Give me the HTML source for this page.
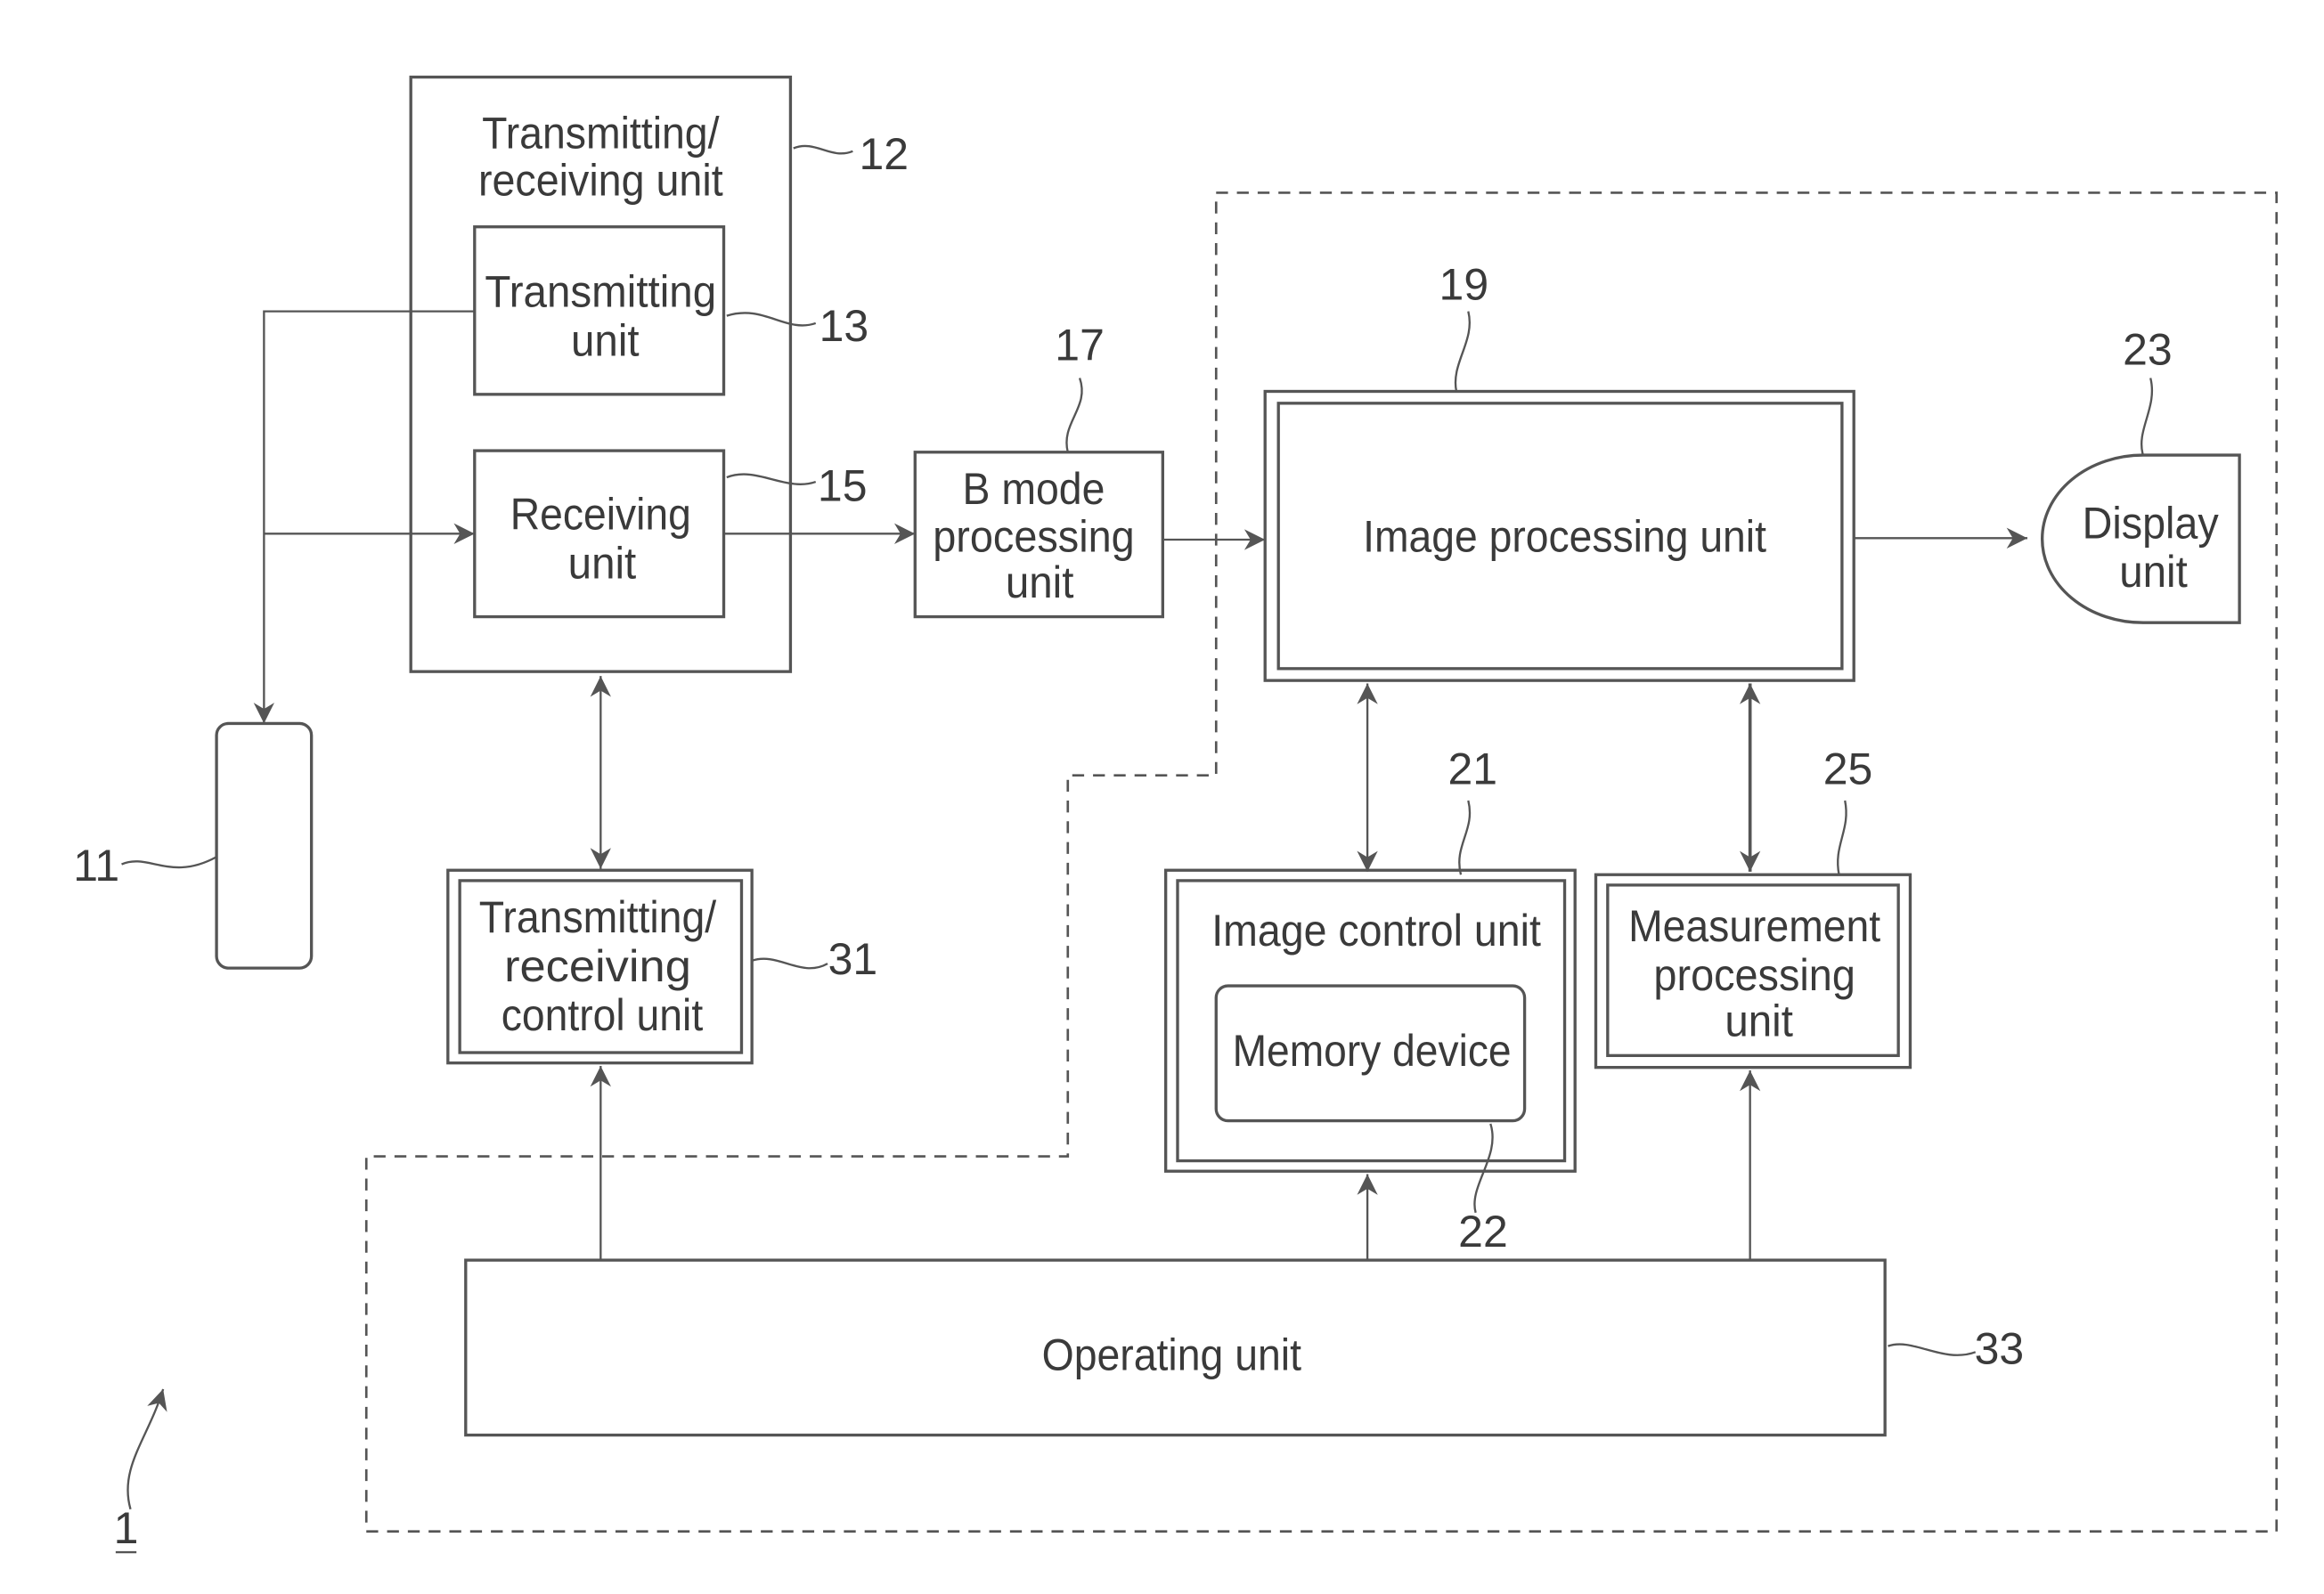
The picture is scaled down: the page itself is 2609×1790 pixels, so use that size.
<!DOCTYPE html>
<html><head><meta charset="utf-8"><style>
html,body{margin:0;padding:0;background:#fff;}
svg{display:block;}
text{font-family:"Liberation Sans",Arial,sans-serif;fill:#3a3a3a;font-size:30px;}
</style></head><body>
<svg width="2609" height="1790" viewBox="0 0 1567 1075.2" preserveAspectRatio="none" xmlns="http://www.w3.org/2000/svg">
<defs>
<marker id="b" viewBox="0 0 10 10" refX="10" refY="5" markerWidth="18" markerHeight="14" markerUnits="userSpaceOnUse" orient="auto-start-reverse">
<path d="M0,0 L10,5 L0,10 L3,5 z" fill="#555"/></marker>
</defs>
<g fill="none" stroke="#555" stroke-width="2">
<path d="M820,130 H1535 V1033 H247 V780 H720 V523 H820 Z" stroke-dasharray="8,6" stroke-width="1.6"/>
<rect x="277" y="52" width="256" height="401"/>
<rect x="320" y="153" width="168" height="113"/>
<rect x="320" y="304" width="168" height="112"/>
<rect x="146" y="488" width="64" height="165" rx="8"/>
<rect x="617" y="305" width="167" height="111"/>
<rect x="853" y="264" width="397" height="195"/>
<rect x="862" y="272" width="380" height="179"/>
<path d="M1445,307 H1510 V420 H1445 A68,56.5 0 0 1 1445,307 Z"/>
<rect x="786" y="587" width="276" height="203"/>
<rect x="794" y="594" width="261" height="189"/>
<rect x="820" y="665" width="208" height="91" rx="8"/>
<rect x="1076" y="590" width="212" height="130"/>
<rect x="1084" y="597" width="196" height="115"/>
<rect x="302" y="587" width="205" height="130"/>
<rect x="310" y="594" width="190" height="116"/>
<rect x="314" y="850" width="957" height="118"/>
</g>
<g fill="none" stroke="#555" stroke-width="1.4">
<path d="M320,210 H178 V488" marker-end="url(#b)"/>
<path d="M178,360 H320" marker-end="url(#b)"/>
<path d="M488,360 H617" marker-end="url(#b)"/>
<path d="M784,364 H853" marker-end="url(#b)"/>
<path d="M1250,363 H1367" marker-end="url(#b)"/>
<path d="M922,461 V588" marker-start="url(#b)" marker-end="url(#b)"/>
<path d="M1180,461 V588" stroke-width="2.2" marker-start="url(#b)" marker-end="url(#b)"/>
<path d="M405,456 V586" marker-start="url(#b)" marker-end="url(#b)"/>
<path d="M405,850 V719" marker-end="url(#b)"/>
<path d="M922,850 V792" marker-end="url(#b)"/>
<path d="M1180,850 V722" marker-end="url(#b)"/>
<path d="M535,100 C550,94 560,108 575,102"/>
<path d="M490,213 C515,205 530,225 550,218"/>
<path d="M490,322 C510,314 530,332 550,325"/>
<path d="M82,583 C100,575 115,595 146,578"/>
<path d="M728,255 C735,275 715,285 720,305"/>
<path d="M990,210 C995,230 978,245 982,264"/>
<path d="M1450,255 C1455,275 1440,290 1445,307"/>
<path d="M990,540 C995,560 980,570 985,590"/>
<path d="M1244,540 C1248,560 1236,570 1240,590"/>
<path d="M1005,758 C1012,780 990,800 995,818"/>
<path d="M507,648 C525,642 540,660 558,650"/>
<path d="M1273,908 C1290,902 1310,920 1332,912"/>
<path d="M88,1018 C80,990 100,970 110,937" marker-end="url(#b)"/>
<path d="M78,1047 H92"/>
</g>
<g text-anchor="middle">
<text x="405" y="100" textLength="160" lengthAdjust="spacingAndGlyphs">Transmitting/</text>
<text x="405" y="132" textLength="165" lengthAdjust="spacingAndGlyphs">receiving unit</text>
<text x="405" y="207" textLength="156" lengthAdjust="spacingAndGlyphs">Transmitting</text>
<text x="408" y="240" textLength="46" lengthAdjust="spacingAndGlyphs">unit</text>
<text x="405" y="357" textLength="122" lengthAdjust="spacingAndGlyphs">Receiving</text>
<text x="406" y="390" textLength="46" lengthAdjust="spacingAndGlyphs">unit</text>
<text x="697" y="340" textLength="96" lengthAdjust="spacingAndGlyphs">B mode</text>
<text x="697" y="372" textLength="136" lengthAdjust="spacingAndGlyphs">processing</text>
<text x="701" y="403" textLength="46" lengthAdjust="spacingAndGlyphs">unit</text>
<text x="1055" y="372" textLength="272" lengthAdjust="spacingAndGlyphs">Image processing unit</text>
<text x="1450" y="363" textLength="92" lengthAdjust="spacingAndGlyphs">Display</text>
<text x="1452" y="396" textLength="46" lengthAdjust="spacingAndGlyphs">unit</text>
<text x="928" y="638" textLength="222" lengthAdjust="spacingAndGlyphs">Image control unit</text>
<text x="925" y="719" textLength="188" lengthAdjust="spacingAndGlyphs">Memory device</text>
<text x="1183" y="635" textLength="170" lengthAdjust="spacingAndGlyphs">Measurement</text>
<text x="1183" y="668" textLength="136" lengthAdjust="spacingAndGlyphs">processing</text>
<text x="1186" y="699" textLength="46" lengthAdjust="spacingAndGlyphs">unit</text>
<text x="403" y="629" textLength="160" lengthAdjust="spacingAndGlyphs">Transmitting/</text>
<text x="403" y="662" textLength="126" lengthAdjust="spacingAndGlyphs">receiving</text>
<text x="406" y="695" textLength="136" lengthAdjust="spacingAndGlyphs">control unit</text>
<text x="790" y="924" textLength="175" lengthAdjust="spacingAndGlyphs">Operating unit</text>
<text x="596" y="114">12</text>
<text x="569" y="230">13</text>
<text x="568" y="338">15</text>
<text x="65" y="594">11</text>
<text x="728" y="243">17</text>
<text x="987" y="202">19</text>
<text x="1448" y="246">23</text>
<text x="993" y="529">21</text>
<text x="1246" y="529">25</text>
<text x="1000" y="841">22</text>
<text x="575" y="657">31</text>
<text x="1348" y="920">33</text>
<text x="85" y="1041">1</text>
</g>
</svg>
</body></html>
